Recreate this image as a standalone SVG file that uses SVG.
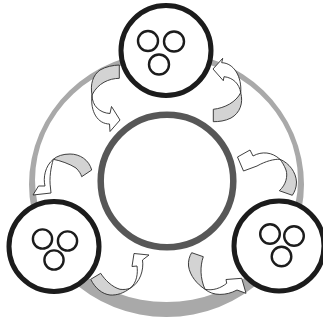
<svg xmlns="http://www.w3.org/2000/svg" width="323" height="320" viewBox="0 0 323 320">
<style>
.node{fill:#fff;stroke:#1c1c1c;stroke-width:5}
.sub{fill:none;stroke:#1c1c1c;stroke-width:2.4}
.g{fill:#d3d3d3;stroke:#2a2a2a;stroke-width:0.9;stroke-linejoin:round}
.w{fill:#fff;stroke:#2a2a2a;stroke-width:0.9;stroke-linejoin:round}
</style>
<rect width="323" height="320" fill="#fff"/>
<path id="ring" fill="#a9a9a9" fill-rule="evenodd" d="M29,184.5 A137.5,132.5 0 1 0 304,184.5 A137.5,132.5 0 1 0 29,184.5 Z M35,180 A131.5,122 0 1 0 298,180 A131.5,122 0 1 0 35,180 Z"/>
<circle id="hub" cx="167" cy="181" r="66.3" fill="#fff" stroke="#575757" stroke-width="6.5"/>
<g id="node-top">
<circle class="node" cx="166" cy="50.5" r="45"/>
<circle class="sub" cx="148" cy="41" r="10"/>
<circle class="sub" cx="174" cy="41.5" r="10"/>
<circle class="sub" cx="159" cy="64.5" r="10"/>
</g>
<g id="node-left">
<circle class="node" cx="54" cy="246.5" r="45"/>
<circle class="sub" cx="42.5" cy="239" r="9.6"/>
<circle class="sub" cx="67.5" cy="241" r="9.6"/>
<circle class="sub" cx="54" cy="260" r="9.6"/>
</g>
<g id="node-right">
<circle class="node" cx="279" cy="246" r="45"/>
<circle class="sub" cx="270" cy="234" r="9.8"/>
<circle class="sub" cx="294" cy="236" r="9.8"/>
<circle class="sub" cx="281.5" cy="256.5" r="9.8"/>
</g>
<g id="connectors">
<path class="g" d="M119.3,65 L119.3,78.3 C109,78.5 98,83 92,95 C90,84 93,75 100,70 C106,66.5 113,65.3 119.3,65 Z"/>
<path class="w" d="M92,95 C92,106 100,113 110,113.5 L111.5,106.5 L120,120 L110,131.5 L109.5,124 C98,124 90,112 92,95 Z"/>
<path class="g" d="M213.3,109.3 C225,108 236,102 240.7,92.7 C243.5,103 240,113 231,118 C225,121 219,121.7 213.3,121.7 Z"/>
<path class="w" d="M240.7,92.7 C242,77 234,63 221.7,62.7 L222.7,58.3 L213,69 L223.3,80.7 L224,76.7 C233,77.5 239.5,84 240.7,92.7 Z"/>
<path class="g" d="M280,159.3 C289,163 296,172 296.5,182 C296.5,188 294.5,192 292.3,195.3 L279.3,190.7 C286,185 288,176 286,170 C284,165 282,162 280,159.3 Z"/>
<path class="w" d="M280,159.3 C272,152 262,151 253,156 L250,150 L237.5,157 L243.5,171 L257,166 C266,161 274,159 280,159.3 Z"/>
<path class="g" d="M91.7,170 C89,160 80,154 70,154 C63,154 57,156 53.3,159.3 C60,160.5 70,164 76,168 C79,171 81,174 81.7,176.7 Z"/>
<path class="w" d="M53.3,159.3 C45,166 43,178 45,186 L38.5,186 L33,195 L51,193 L50.5,188 C49,178 51,167 53.3,159.3 Z"/>
<path class="g" d="M90.7,279.3 L100.7,273.3 C105,280 112,287 120,289.3 C124,289.8 127.5,289.3 130,288.3 C124,293 117,295.5 110,295 C102,294 95,288 90.7,279.3 Z"/>
<path class="w" d="M130,288.3 C137,283 138,273 137,266 L132,266.5 L134,253.5 L149,255 L142.5,260 C144,270 140,283 130,288.3 Z"/>
<path class="g" d="M191.7,252.7 L203.3,256.7 C200,266 200,278 205,289.3 C197,284 190,276 188.5,266 C188,261 189.5,256 191.7,252.7 Z"/>
<path class="w" d="M205,289.3 C213,291 221,288 226.7,283.3 L226,279.5 L241.7,278.3 L246,293.3 L237,290 C226,296 213,296 205,289.3 Z"/>
</g>
</svg>
